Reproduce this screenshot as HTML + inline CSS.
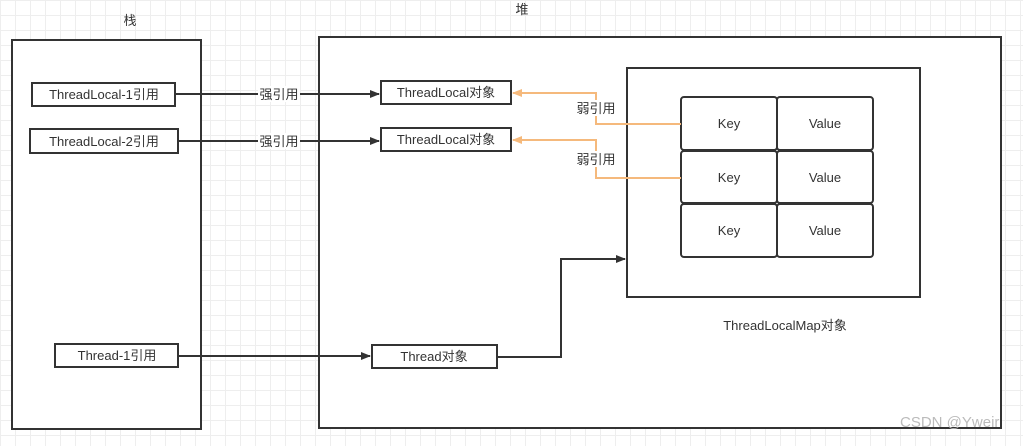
<!DOCTYPE html>
<html><head><meta charset="utf-8"><style>
body{margin:0;width:1023px;height:441px;overflow:hidden;background:#fff;
background-image:linear-gradient(#eee 1px,transparent 1px),linear-gradient(90deg,#eee 1px,transparent 1px);background-size:15px 15px;}
svg text{font-family:"Liberation Sans","Noto Sans CJK SC",sans-serif;fill:#333;font-size:13px}
</style></head><body>
<svg width="1023" height="441" xmlns="http://www.w3.org/2000/svg">
<defs>
<marker id="a" markerWidth="10" markerHeight="8" refX="9" refY="4" orient="auto" markerUnits="userSpaceOnUse"><path d="M0,0 L10,4 L0,8 Z" fill="#333"/></marker>
<marker id="o" markerWidth="10" markerHeight="8" refX="9" refY="4" orient="auto" markerUnits="userSpaceOnUse"><path d="M0,0 L10,4 L0,8 Z" fill="#f5b97c"/></marker>
</defs>
<g fill="#fff" stroke="#333" stroke-width="2">
<rect x="12" y="40" width="189" height="389"/>
<rect x="319" y="37" width="682" height="391"/>
<rect x="32" y="83" width="143" height="23"/>
<rect x="30" y="129" width="148" height="24"/>
<rect x="55" y="344" width="123" height="23"/>
<rect x="381" y="81" width="130" height="23"/>
<rect x="381" y="128" width="130" height="23"/>
<rect x="372" y="345" width="125" height="23"/>
<rect x="627" y="68" width="293" height="229"/>
<rect x="681" y="97" width="96" height="53" rx="3"/>
<rect x="777" y="97" width="96" height="53" rx="3"/>
<rect x="681" y="151" width="96" height="52" rx="3"/>
<rect x="777" y="151" width="96" height="52" rx="3"/>
<rect x="681" y="204" width="96" height="53" rx="3"/>
<rect x="777" y="204" width="96" height="53" rx="3"/>
</g>
<g fill="none" stroke="#333" stroke-width="2">
<path d="M175,94 H379" marker-end="url(#a)"/>
<path d="M178,141 H379" marker-end="url(#a)"/>
<path d="M178,356 H370" marker-end="url(#a)"/>
<path d="M497,357 H561 V259 H625" marker-end="url(#a)"/>
</g>
<g fill="none" stroke="#f5b97c" stroke-width="2">
<path d="M681,124 H596 V93 H513" marker-end="url(#o)"/>
<path d="M681,178 H596 V140 H513" marker-end="url(#o)"/>
</g>
<rect x="258" y="86" width="42" height="16" fill="#fff"/>
<rect x="258" y="133" width="42" height="16" fill="#fff"/>
<rect x="575" y="100" width="42" height="16" fill="#fff"/>
<rect x="575" y="151" width="42" height="16" fill="#fff"/>
<g text-anchor="middle">
<text x="130" y="25">栈</text>
<text x="522" y="14">堆</text>
<text x="104" y="99">ThreadLocal-1引用</text>
<text x="104" y="146">ThreadLocal-2引用</text>
<text x="117" y="360">Thread-1引用</text>
<text x="446" y="97">ThreadLocal对象</text>
<text x="446" y="144">ThreadLocal对象</text>
<text x="434" y="361">Thread对象</text>
<text x="279" y="99">强引用</text>
<text x="279" y="146">强引用</text>
<text x="596" y="113" fill="#555">弱引用</text>
<text x="596" y="164" fill="#555">弱引用</text>
<text x="729" y="128">Key</text>
<text x="825" y="128">Value</text>
<text x="729" y="182">Key</text>
<text x="825" y="182">Value</text>
<text x="729" y="235">Key</text>
<text x="825" y="235">Value</text>
<text x="785" y="330">ThreadLocalMap对象</text>
</g>
<text x="900" y="427" style="font-size:15px;fill:#bbb">CSDN @Yweir</text>
</svg>
</body></html>
